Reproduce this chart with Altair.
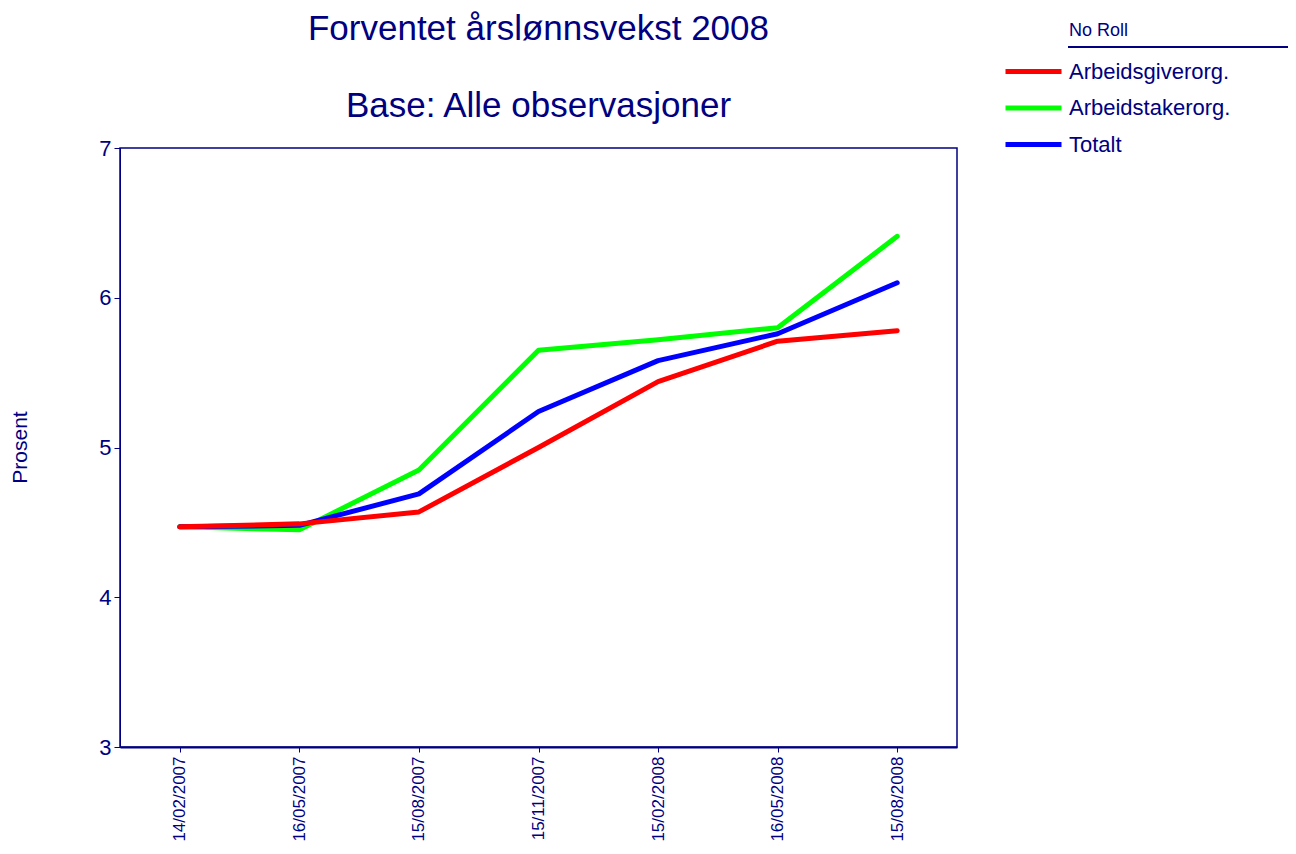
import altair as alt
import pandas as pd

dates = ["14/02/2007", "16/05/2007", "15/08/2007", "15/11/2007",
         "15/02/2008", "16/05/2008", "15/08/2008"]
series_names = ["Arbeidsgiverorg.", "Arbeidstakerorg.", "Totalt"]
arbeidsgiver = [4.47, 4.49, 4.57, 5.00, 5.44, 5.71, 5.78]
arbeidstaker = [4.47, 4.45, 4.85, 5.65, 5.72, 5.80, 6.41]
totalt = [4.47, 4.48, 4.69, 5.24, 5.58, 5.76, 6.10]
colors = ["#FF0000", "#00FF00", "#0000FF"]
title_lines = ["Forventet årslønnsvekst 2008", "Base: Alle observasjoner"]
legend_title = "No Roll"

NAVY = "#000080"
FONT = "Liberation Sans"


def frame(name, vals):
    return pd.DataFrame({"Dato": dates, "Prosent": vals, "Serie": name})


color_enc = alt.Color(
    "Serie:N",
    scale=alt.Scale(domain=series_names, range=colors),
    legend=alt.Legend(title=None, orient="none",
                      legendX=897, legendY=-93,
                      symbolType="M-2,0L2,0", symbolSize=784,
                      symbolStrokeWidth=5,
                      labelFontSize=22, labelColor=NAVY,
                      labelFont=FONT, labelOffset=19, labelLimit=400,
                      rowPadding=8.5))

x_enc = alt.X("Dato:O", sort=dates,
              scale=alt.Scale(type="point", padding=0.5),
              axis=alt.Axis(title=None, labelAngle=270, labelAlign="right",
                            labelBaseline="middle", labelFontSize=17,
                            labelColor=NAVY, labelFont=FONT, tickColor=NAVY,
                            tickSize=5, domainColor=NAVY, domainWidth=2,
                            labelPadding=4, labelLimit=300))
y_enc = alt.Y("Prosent:Q", scale=alt.Scale(domain=[3, 7], nice=False, zero=False),
              axis=alt.Axis(values=[3, 4, 5, 6, 7], format="d", grid=False,
                            title="Prosent", titleAngle=-90, titleX=-100, titleY=299,
                            titleAlign="center", titleBaseline="middle",
                            titleFontSize=21, titleFontWeight="normal",
                            titleColor=NAVY, titleFont=FONT,
                            labelFontSize=22, labelColor=NAVY, labelFont=FONT,
                            tickColor=NAVY, tickSize=6, domainColor=NAVY,
                            labelPadding=3))


def line(name, vals):
    return alt.Chart(frame(name, vals)).mark_line(
        strokeWidth=5, strokeCap="round", strokeJoin="round"
    ).encode(x=x_enc, y=y_enc, color=color_enc)


# drawing order: green, blue, red on top
green = line("Arbeidstakerorg.", arbeidstaker)
blue = line("Totalt", totalt)
red = line("Arbeidsgiverorg.", arbeidsgiver)

one = alt.Data(values=[{"a": 1}])

underline = alt.Chart(one).mark_rule(color=NAVY, strokeWidth=2).encode(
    x=alt.value(948), x2=alt.value(1176), y=alt.value(-101))

leg_title = alt.Chart(one).mark_text(
    text=legend_title, font=FONT, fontSize=18, color=NAVY,
    align="left", baseline="alphabetic").encode(
    x=alt.value(949), y=alt.value(-112))

title1 = alt.Chart(one).mark_text(
    text=title_lines[0], font=FONT, fontSize=35, color=NAVY,
    align="center", baseline="alphabetic").encode(
    x=alt.value(418.5), y=alt.value(-108))

title2 = alt.Chart(one).mark_text(
    text=title_lines[1], font=FONT, fontSize=35, color=NAVY,
    align="center", baseline="alphabetic").encode(
    x=alt.value(418.5), y=alt.value(-31))

chart = alt.layer(green, blue, red, underline, leg_title, title1, title2).properties(
    width=837, height=599,
    padding={"left": 112, "top": 140, "right": 331, "bottom": 98},
    autosize=alt.AutoSizeParams(type="none"),
).configure_view(stroke=NAVY, strokeWidth=1.5)

chart.save("out.html", embed_options={"renderer": "svg", "actions": False})
